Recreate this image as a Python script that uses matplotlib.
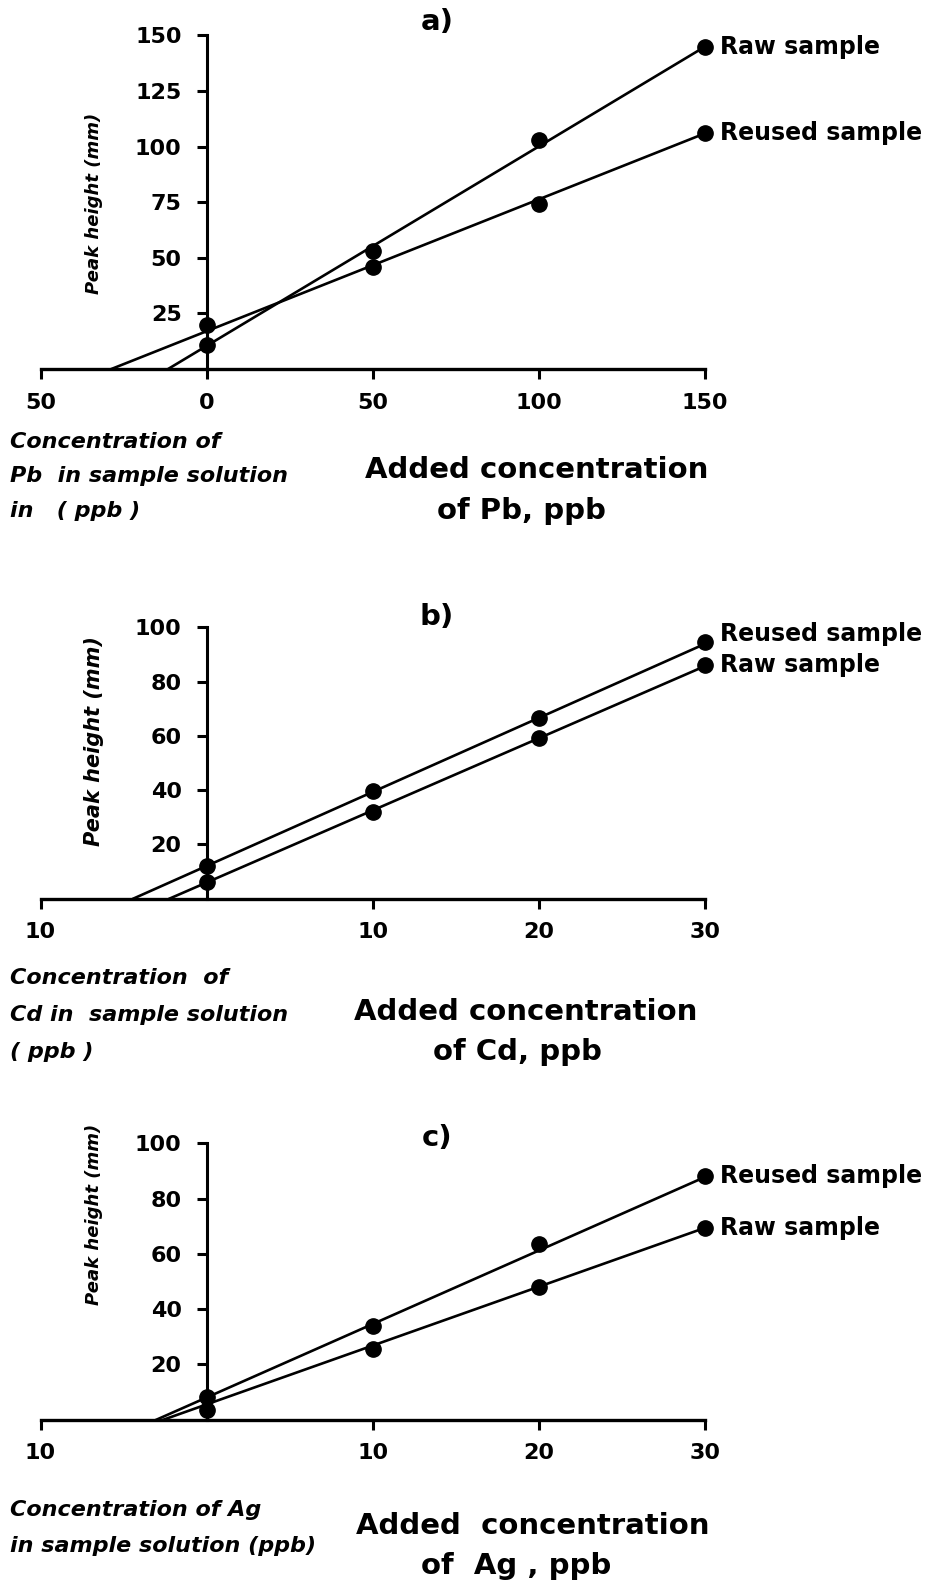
import matplotlib
matplotlib.use("Agg")
import matplotlib.pyplot as plt
import numpy as np

# ---- data ----
pb_added = [0, 50, 100, 150]
pb_raw = [11, 53, 103, 145]
pb_reused = [20, 46, 74, 106]
pb_raw_fit = (0.897, 10.4)      # slope, intercept
pb_reused_fit = (0.593, 17.0)

cd_added = [0, 10, 20, 30]
cd_raw = [6, 32, 59, 86]
cd_reused = [12, 39.5, 66.5, 94.5]
cd_raw_fit = (2.66, 5.9)
cd_reused_fit = (2.73, 12.0)

ag_added = [0, 10, 20, 30]
ag_raw = [3.5, 25.5, 48, 69.5]
ag_reused = [8, 34, 63.5, 88]
ag_raw_fit = (2.13, 5.5)
ag_reused_fit = (2.66, 8.0)

pb_xticks = [-50, 0, 50, 100, 150]
pb_xticklabels = ["50", "0", "50", "100", "150"]
pb_yticks = [25, 50, 75, 100, 125, 150]

cdag_xticks = [-10, 10, 20, 30]
cdag_xticklabels = ["10", "10", "20", "30"]
cdag_yticks = [20, 40, 60, 80, 100]

W, H = 940, 1586
fig = plt.figure(figsize=(W / 100, H / 100), dpi=100)
plt.rcParams['font.family'] = ['DejaVu Sans']


def fx(px):
    return px / W


def fy(py):
    return 1 - py / H


def add_panel(top_px, bottom_px):
    return fig.add_axes([fx(40.5), fy(bottom_px), fx(705) - fx(40.5),
                         fy(top_px) - fy(bottom_px)])


def style_axes(ax, xlim, ylim, xticks, xticklabels, yticks):
    ax.set_xlim(*xlim)
    ax.set_ylim(*ylim)
    for s in ("top", "right"):
        ax.spines[s].set_visible(False)
    ax.spines["left"].set_position(("data", 0))
    ax.spines["left"].set_linewidth(2.2)
    ax.spines["bottom"].set_linewidth(2.4)
    ax.set_xticks(xticks)
    ax.set_xticklabels(xticklabels)
    ax.set_yticks(yticks)
    ax.set_yticklabels([str(v) for v in yticks])
    ax.tick_params(axis="x", direction="out", length=7, width=2.2, pad=10,
                   labelsize=16)
    ax.tick_params(axis="y", direction="out", length=7, width=2.2, pad=11,
                   labelsize=16)
    for lab in ax.get_xticklabels() + ax.get_yticklabels():
        lab.set_fontweight("bold")
    ax.patch.set_visible(False)


def draw_series(ax, x, y, fit, x_end, label, dy=0):
    m, b = fit
    x0 = -b / m
    ax.plot([x0, x_end], [0, m * x_end + b], color="black", lw=1.9,
            clip_on=False, zorder=3)
    ax.plot(x, y, "o", color="black", ms=11, clip_on=False, zorder=4)
    ax.annotate(label, xy=(x[-1], y[-1]), xytext=(11, dy),
                textcoords="offset points", va="center", ha="left",
                fontsize=17, fontweight="bold", annotation_clip=False)


# ---- panel a ----
ax_a = add_panel(35.4, 369)
style_axes(ax_a, (-50, 150), (0, 150), pb_xticks, pb_xticklabels, pb_yticks)
draw_series(ax_a, pb_added, pb_raw, pb_raw_fit, 150, "Raw sample")
draw_series(ax_a, pb_added, pb_reused, pb_reused_fit, 150, "Reused sample")

# ---- panel b ----
ax_b = add_panel(627.3, 898.5)
style_axes(ax_b, (-10, 30), (0, 100), cdag_xticks, cdag_xticklabels, cdag_yticks)
draw_series(ax_b, cd_added, cd_reused, cd_reused_fit, 30, "Reused sample", dy=6)
draw_series(ax_b, cd_added, cd_raw, cd_raw_fit, 30, "Raw sample")

# ---- panel c ----
ax_c = add_panel(1143.3, 1419.6)
style_axes(ax_c, (-10, 30), (0, 100), cdag_xticks, cdag_xticklabels, cdag_yticks)
draw_series(ax_c, ag_added, ag_reused, ag_reused_fit, 30, "Reused sample")
draw_series(ax_c, ag_added, ag_raw, ag_raw_fit, 30, "Raw sample")

# panel letters
for txt, py in (("a)", 22), ("b)", 617), ("c)", 1138)):
    fig.text(fx(437), fy(py), txt, ha="center", va="center", fontsize=21,
             fontweight="bold")

# y labels
for py, size in ((203, 13), (741, 15), (1214, 13)):
    fig.text(fx(94), fy(py), "Peak height (mm)", rotation=90, ha="center",
             va="center", fontsize=size, fontweight="bold", fontstyle="italic")

# left-hand captions
left_notes = [
    (["Concentration of", "Pb  in sample solution", "in   ( ppb )"],
     [442, 476, 511]),
    (["Concentration  of", "Cd in  sample solution", "( ppb )"],
     [978, 1015, 1052]),
    (["Concentration of Ag", "in sample solution (ppb)"],
     [1510, 1546]),
]
for lines, ys in left_notes:
    for line, py in zip(lines, ys):
        fig.text(fx(10), fy(py), line, ha="left", va="center", fontsize=16,
                 fontweight="bold", fontstyle="italic")

# axis captions
right_notes = [
    ("Added concentration", 537, 470, "of Pb, ppb", 521, 511),
    ("Added concentration", 526, 1012, "of Cd, ppb", 517, 1052),
    ("Added  concentration", 533, 1526, "of  Ag , ppb", 516, 1566),
]
for l1, x1, y1, l2, x2, y2 in right_notes:
    fig.text(fx(x1), fy(y1), l1, ha="center", va="center", fontsize=21,
             fontweight="bold")
    fig.text(fx(x2), fy(y2), l2, ha="center", va="center", fontsize=21,
             fontweight="bold")

fig.savefig("out.png", dpi=100, facecolor="white")
